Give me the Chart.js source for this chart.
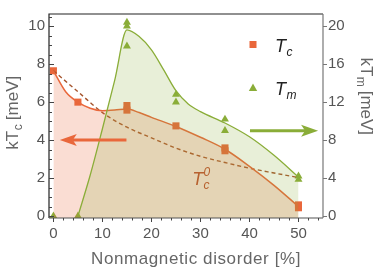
<!DOCTYPE html>
<html>
<head>
<meta charset="utf-8">
<script src="https://cdn.jsdelivr.net/npm/chart.js@4.4.1/dist/chart.umd.min.js"></script>
<style>
html, body { margin: 0; padding: 0; background: #fff; }
</style>
</head>
<body>
<canvas id="chart" width="374" height="271"></canvas>
<script>
// measured Tc points (left axis, meV)
const tcX = [0, 5, 15, 15, 25, 35, 35, 50, 50];
const tcY = [7.65, 6.0, 5.58, 5.82, 4.75, 3.44, 3.59, 0.44, 0.59];
// measured Tm points (right axis, meV)
const tmX = [0, 5, 15, 15, 15, 25, 25, 35, 35, 50, 50];
const tmY = [0, 0, 20.4, 20.0, 17.9, 12.8, 12.0, 10.2, 9.0, 4.2, 3.85];
// fitted curves
const tcFitX = [0, 2.5, 5, 7.5, 10, 12.5, 15, 17.5, 20, 25, 30, 35, 40, 45, 50];
const tcFitY = [7.65, 6.55, 6.0, 5.68, 5.55, 5.58, 5.64, 5.45, 5.2, 4.72, 4.15, 3.52, 2.62, 1.62, 0.5];
const tmFitX = [5, 7.5, 10, 12.5, 15, 17.5, 20, 22.5, 25, 27.5, 30, 35, 40, 45, 50];
const tmFitY = [0, 4.3, 9.2, 14.3, 19.6, 18.9, 17.5, 15.4, 13.2, 11.8, 11.0, 9.8, 8.35, 6.4, 4.1];
const tc0X = [0, 5, 10, 15, 20, 25, 30, 35, 40, 45, 50];
const tc0Y = [7.65, 6.55, 5.45, 4.68, 4.12, 3.58, 3.15, 2.82, 2.52, 2.27, 2.03];
// tick labels
const xTicks = [0, 10, 20, 30, 40, 50];
const yTicks = [0, 2, 4, 6, 8, 10];
const y2Ticks = [0, 4, 8, 12, 16, 20];

const ORANGE = '#e9673b';
const GREEN = '#8aad38';
const BROWN = '#a5542c';
const FONT = "'Liberation Sans', Arial, sans-serif";

const toXY = (xs, ys) => xs.map((x, i) => ({ x: x, y: ys[i] }));
const setTicks = arr => scale => { scale.ticks = arr.map(v => ({ value: v })); };

function arrow(ctx, x1, x2, y, color) {
  // horizontal arrow, tip at x2
  const dir = x2 > x1 ? 1 : -1;
  const head = 17, half = 6, notch = 4;
  ctx.save();
  ctx.strokeStyle = color;
  ctx.fillStyle = color;
  ctx.lineWidth = 3;
  ctx.beginPath();
  ctx.moveTo(x1, y);
  ctx.lineTo(x2 - dir * (head - notch), y);
  ctx.stroke();
  ctx.beginPath();
  ctx.moveTo(x2, y);
  ctx.lineTo(x2 - dir * head, y - half);
  ctx.lineTo(x2 - dir * (head - notch), y);
  ctx.lineTo(x2 - dir * head, y + half);
  ctx.closePath();
  ctx.fill();
  ctx.restore();
}

function subText(ctx, x, y, main, sub, sup, size, color, italic) {
  const st = italic ? 'italic ' : '';
  ctx.fillStyle = color;
  ctx.font = st + size + 'px ' + FONT;
  ctx.fillText(main, x, y);
  const w = ctx.measureText(main).width;
  ctx.font = st + Math.round(size * 0.68) + 'px ' + FONT;
  if (sub) ctx.fillText(sub, x + w + 0.5, y + size * 0.22);
  if (sup) ctx.fillText(sup, x + w + 0.5, y - size * 0.5);
}

const decorations = {
  id: 'decorations',
  afterDatasetsDraw(chart) {
    const { ctx, chartArea: a, scales: { x, y, y2 } } = chart;
    ctx.save();

    // arrows pointing to the axes
    arrow(ctx, x.getPixelForValue(14.9), x.getPixelForValue(1.3), y.getPixelForValue(4), ORANGE);
    arrow(ctx, x.getPixelForValue(40.1), x.getPixelForValue(54), y2.getPixelForValue(9), GREEN);

    // T_c^0 label
    ctx.textBaseline = 'alphabetic';
    ctx.textAlign = 'left';
    subText(ctx, x.getPixelForValue(28.3), y.getPixelForValue(1.62), 'T', 'c', '0', 18, '#b7612f', true);

    // legend
    ctx.fillStyle = ORANGE;
    ctx.fillRect(a.left + 200.5, a.top + 27, 7, 7);
    ctx.fillStyle = GREEN;
    ctx.beginPath();
    ctx.moveTo(a.left + 204, a.top + 69.5);
    ctx.lineTo(a.left + 208.2, a.top + 77);
    ctx.lineTo(a.left + 199.8, a.top + 77);
    ctx.closePath();
    ctx.fill();
    subText(ctx, a.left + 226, a.top + 38, 'T', 'c', null, 18, '#222', true);
    subText(ctx, a.left + 226, a.top + 81, 'T', 'm', null, 18, '#222', true);

    // frame
    ctx.lineWidth = 1.2;
    ctx.strokeStyle = '#222';
    ctx.beginPath();
    ctx.moveTo(a.left, a.bottom);
    ctx.lineTo(a.left, a.top);
    ctx.lineTo(a.right, a.top);
    ctx.stroke();
    ctx.strokeStyle = '#555';
    ctx.beginPath();
    ctx.moveTo(a.left, a.bottom);
    ctx.lineTo(a.right, a.bottom);
    ctx.stroke();
    ctx.strokeStyle = '#777';
    ctx.beginPath();
    ctx.moveTo(a.right, a.top);
    ctx.lineTo(a.right, a.bottom);
    ctx.stroke();

    // tick marks
    ctx.lineWidth = 1;
    ctx.strokeStyle = '#444';
    ctx.beginPath();
    for (let i = 0; i <= 21; i++) {
      const py = Math.round(y.getPixelForValue(i * 0.5)) + 0.5;
      const len = i % 4 === 0 ? 5 : 3;
      ctx.moveTo(a.left, py);
      ctx.lineTo(a.left + len, py);
    }
    for (let i = 0; i <= 27; i++) {
      const px = Math.round(x.getPixelForValue(i * 2)) + 0.5;
      const len = i % 5 === 0 ? 4 : 2.5;
      ctx.moveTo(px, a.bottom);
      ctx.lineTo(px, a.bottom + len);
    }
    ctx.stroke();
    ctx.strokeStyle = '#777';
    ctx.beginPath();
    for (let i = 0; i <= 5; i++) {
      const py = Math.round(y2.getPixelForValue(i * 4)) + 0.5;
      ctx.moveTo(a.right, py);
      ctx.lineTo(a.right + 4, py);
    }
    ctx.stroke();

    // axis titles
    ctx.fillStyle = '#666';
    ctx.textAlign = 'center';
    ctx.font = '17px ' + FONT;
    ctx.letterSpacing = '0.6px';
    ctx.fillText('Nonmagnetic disorder [%]', (a.left + a.right) / 2 + 10, 264);
    ctx.letterSpacing = '0px';

    ctx.textAlign = 'left';
    ctx.save();
    ctx.translate(18, 113);
    ctx.rotate(-Math.PI / 2);
    ctx.font = '17px ' + FONT;
    let w1 = ctx.measureText('kT').width, w2, w3 = ctx.measureText(' [meV]').width;
    ctx.font = '11px ' + FONT;
    w2 = ctx.measureText('c').width;
    let sx = -(w1 + w2 + w3) / 2;
    subText(ctx, sx, 0, 'kT', 'c', null, 17, '#666', false);
    ctx.font = '17px ' + FONT;
    ctx.fillText(' [meV]', sx + w1 + w2 + 0.5, 0);
    ctx.restore();

    ctx.save();
    ctx.translate(361, 96);
    ctx.rotate(Math.PI / 2);
    ctx.font = '17px ' + FONT;
    w1 = ctx.measureText('kT').width;
    ctx.font = '11px ' + FONT;
    w2 = ctx.measureText('m').width;
    sx = -(w1 + w2 + w3) / 2;
    subText(ctx, sx, 0, 'kT', 'm', null, 17, '#666', false);
    ctx.font = '17px ' + FONT;
    ctx.fillText(' [meV]', sx + w1 + w2 + 0.5, 0);
    ctx.restore();

    ctx.restore();
  }
};

const tickFont = { family: FONT, size: 15 };

new Chart(document.getElementById('chart').getContext('2d'), {
  type: 'line',
  data: {
    datasets: [
      {
        label: 'Tm fit',
        data: toXY(tmFitX, tmFitY),
        yAxisID: 'y2',
        borderColor: GREEN,
        borderWidth: 1.3,
        backgroundColor: 'rgba(140,175,60,0.2)',
        fill: 'start',
        pointRadius: 0,
        cubicInterpolationMode: 'monotone'
      },
      {
        label: 'Tc fit',
        data: toXY(tcFitX, tcFitY),
        yAxisID: 'y',
        borderColor: ORANGE,
        borderWidth: 1.5,
        backgroundColor: 'rgba(233,100,55,0.22)',
        fill: 'start',
        pointRadius: 0,
        cubicInterpolationMode: 'monotone'
      },
      {
        label: 'Tc0',
        data: toXY(tc0X, tc0Y),
        yAxisID: 'y',
        borderColor: BROWN,
        borderWidth: 1.4,
        borderDash: [4, 3],
        fill: false,
        pointRadius: 0,
        cubicInterpolationMode: 'monotone'
      },
      {
        label: 'Tc',
        data: toXY(tcX, tcY),
        yAxisID: 'y',
        showLine: false,
        pointStyle: 'rect',
        pointRadius: 5,
        pointBackgroundColor: ORANGE,
        pointBorderWidth: 0
      },
      {
        label: 'Tm',
        data: toXY(tmX, tmY),
        yAxisID: 'y2',
        showLine: false,
        pointStyle: 'triangle',
        pointRadius: 4.6,
        pointBackgroundColor: GREEN,
        pointBorderWidth: 0
      }
    ]
  },
  options: {
    responsive: false,
    animation: false,
    layout: { padding: { top: 1 } },
    plugins: { legend: { display: false }, tooltip: { enabled: false } },
    scales: {
      x: {
        type: 'linear',
        min: -0.9,
        max: 55,
        afterBuildTicks: setTicks(xTicks),
        afterFit: s => { s.height = 53; },
        grid: { display: false, drawTicks: false },
        border: { display: false },
        ticks: { color: '#555', font: tickFont, padding: 7, maxRotation: 0 }
      },
      y: {
        position: 'left',
        min: -0.1,
        max: 10.64,
        afterBuildTicks: setTicks(yTicks),
        afterFit: s => { s.width = 49; },
        grid: { display: false, drawTicks: false },
        border: { display: false },
        ticks: { color: '#555', font: tickFont, padding: 4 }
      },
      y2: {
        position: 'right',
        min: -0.2,
        max: 21.28,
        afterBuildTicks: setTicks(y2Ticks),
        afterFit: s => { s.width = 51; },
        grid: { display: false, drawTicks: false },
        border: { display: false },
        ticks: { color: '#555', font: tickFont, padding: 5 }
      }
    }
  },
  plugins: [decorations]
});
</script>
</body>
</html>
